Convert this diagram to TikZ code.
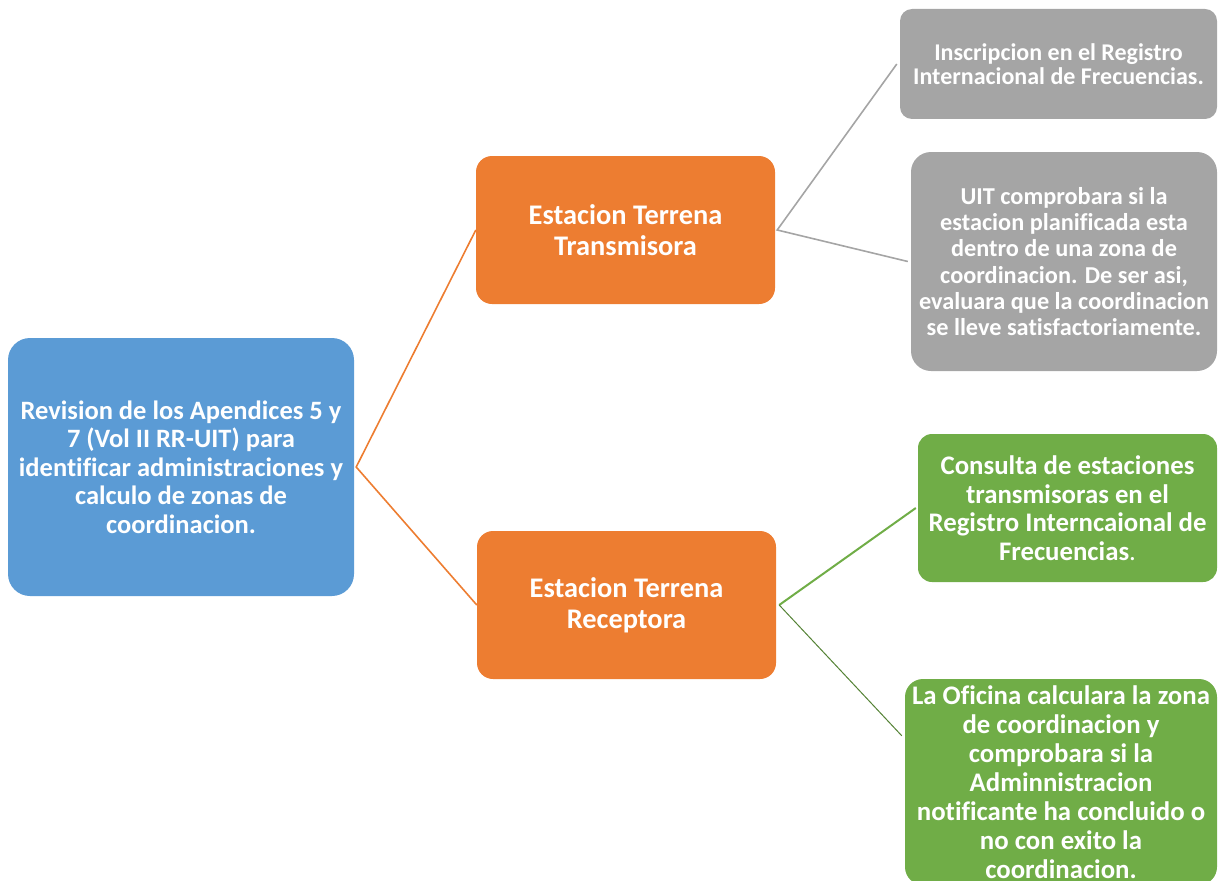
\documentclass[tikz,border=0pt]{standalone}
\usepackage{fontspec}
\setmainfont{Carlito}[Ligatures=CommonOff]
\definecolor{cblue}{HTML}{5B9BD5}
\definecolor{corange}{HTML}{ED7D31}
\definecolor{cgray}{HTML}{A5A5A5}
\definecolor{cgreen}{HTML}{70AD47}
\definecolor{cdgreen}{HTML}{548235}
\begin{document}
\begin{tikzpicture}[x=1pt,y=-1pt,
  box/.style={rectangle,rounded corners=16pt,inner sep=0pt,text=white,align=center,font=\bfseries},
  link/.style={line width=1.6pt}]
\useasboundingbox (0,0) rectangle (1222,880);
\clip (0,0) rectangle (1222,880);
\node[box,fill=cblue,minimum width=346pt,minimum height=258pt,rounded corners=22pt,
  font=\bfseries\fontsize{26.5}{28.5}\selectfont] (root) at (181,467)
  {Revision de los Apendices 5 y\\7 (Vol II RR-UIT) para\\identificar administraciones y\\calculo de zonas de\\coordinacion.};
\node[box,fill=corange,minimum width=299pt,minimum height=148pt,
  font=\bfseries\fontsize{28.4}{31}\selectfont] (tx) at (625.5,230)
  {Estacion Terrena\\Transmisora};
\node[box,fill=corange,minimum width=299pt,minimum height=148pt,
  font=\bfseries\fontsize{28.4}{31}\selectfont] (rx) at (626.5,605)
  {Estacion Terrena\\Receptora};
\node[box,fill=cgray,minimum width=317pt,minimum height=110pt,rounded corners=12pt,
  font=\bfseries\fontsize{24}{24}\selectfont] (g1) at (1058.5,64)
  {Inscripcion en el Registro\\Internacional de Frecuencias.};
\node[box,fill=cgray,minimum width=306pt,minimum height=219pt,rounded corners=20pt,
  font=\bfseries\fontsize{24.3}{26.2}\selectfont] (g2) at (1064,261.5)
  {UIT comprobara si la\\estacion planificada esta\\dentro de una zona de\\coordinacion. De ser asi,\\evaluara que la coordinacion\\se lleve satisfactoriamente.};
\node[box,fill=cgreen,minimum width=299pt,minimum height=148pt,rounded corners=14pt,
  font=\bfseries\fontsize{26.8}{28.5}\selectfont] (v1) at (1067.5,508)
  {Consulta de estaciones\\transmisoras en el\\Registro Interncaional de\\Frecuencias{\mdseries .}};
\node[box,fill=cgreen,minimum width=312pt,minimum height=206pt,rounded corners=18pt,
  font=\bfseries\fontsize{26.8}{29}\selectfont] (v2) at (1061,782)
  {La Oficina calculara la zona\\de coordinacion y\\comprobara si la\\Adminnistracion\\notificante ha concluido o\\no con exito la\\coordinacion.};
\coordinate (rj) at ([xshift=2pt]root.east);
\draw[link,corange] (tx.west) -- (rj) -- (rx.west);
\coordinate (tj) at ([xshift=2pt]tx.east);
\draw[link,cgray] ([xshift=-3pt]g1.west) -- (tj) -- ([xshift=-3pt]g2.west);
\coordinate (vj) at ([xshift=3pt]rx.east);
\draw[link,cgreen,line width=2pt] ([xshift=-2pt]v1.west) -- (vj);
\draw[cdgreen,line width=1pt] (vj) -- ([xshift=-3pt,yshift=-57pt]v2.north west);
\end{tikzpicture}
\end{document}
